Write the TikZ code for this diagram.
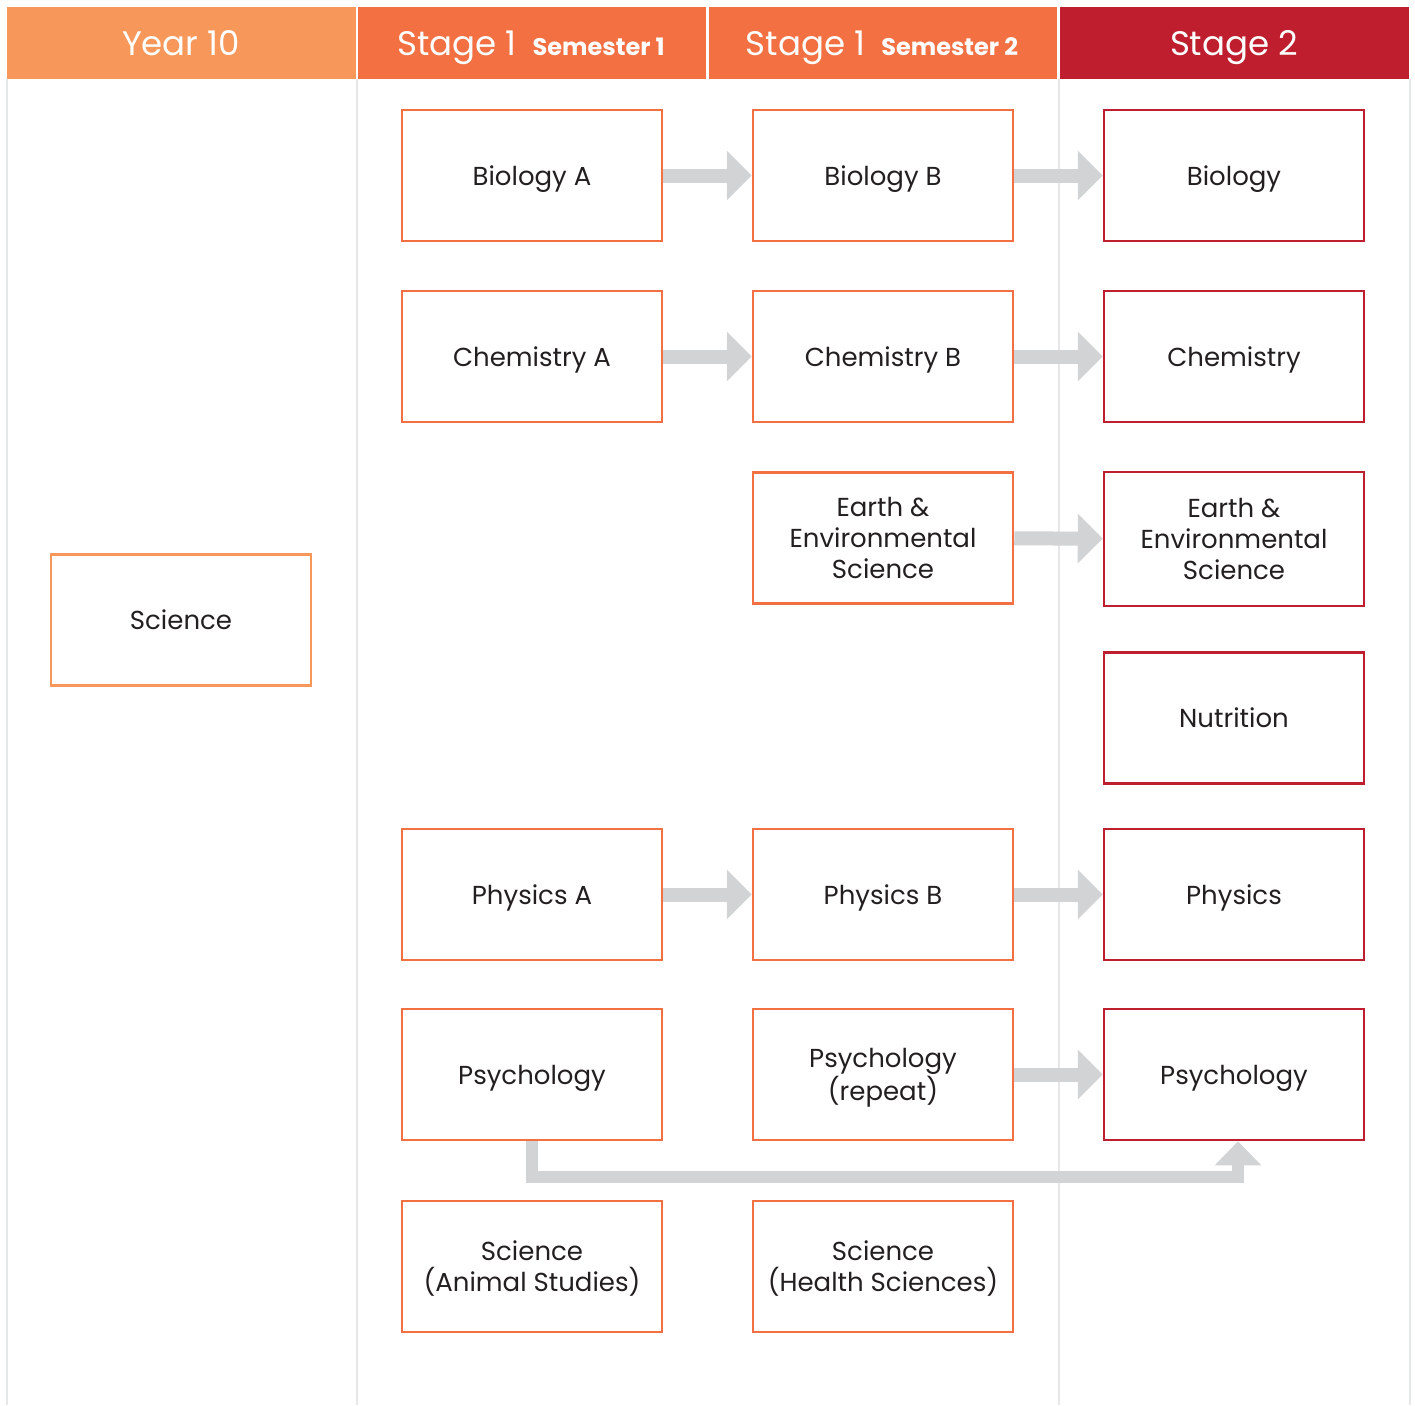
\documentclass[tikz,border=0pt]{standalone}
\usepackage{fontspec}
\setmainfont{Poppins}
\usetikzlibrary{arrows.meta,positioning,calc}
\definecolor{yearorange}{HTML}{F7975A}
\definecolor{stageorange}{HTML}{F37043}
\definecolor{stagered}{HTML}{BE1E2D}
\definecolor{gridgrey}{HTML}{E6E7E8}
\definecolor{arrowgrey}{HTML}{D1D3D4}
\definecolor{textdark}{HTML}{231F20}
\tikzset{
  subjbox/.style={draw,line width=1.25pt,minimum width=130pt,minimum height=65.5pt,
    align=center,text=textdark,font=\fontsize{13}{15.5}\selectfont,inner sep=0pt,text depth=0pt},
  yearbox/.style={subjbox,draw=yearorange},
  sonebox/.style={subjbox,draw=stageorange},
  stwobox/.style={subjbox,draw=stagered},
  headtext/.style={text=white,font=\fontsize{17}{20}\selectfont,text depth=0pt},
  flowarrow/.style={draw=arrowgrey,line width=7pt,-{Triangle[width=24pt,length=12.5pt]}},
  bendarrow/.style={draw=arrowgrey,line width=6pt,-{Triangle[width=22.5pt,length=12pt]}}
}
\newcommand{\semtext}[1]{{\bfseries\fontsize{12}{14}\selectfont #1}}
\begin{document}
\begin{tikzpicture}[x=0.5pt,y=-0.5pt]
\useasboundingbox (0,0) rectangle (1415,1405);
% header band
\fill[yearorange]  (7,7)    rectangle (356,79);
\fill[stageorange] (358,7)  rectangle (706,79);
\fill[stageorange] (709,7)  rectangle (1057,79);
\fill[stagered]    (1060,7) rectangle (1409,79);
\node[headtext] (hyear) at (181,43) {Year 10};
\node[headtext] (hsone) at (531,43) {Stage 1\hspace{8pt}\semtext{Semester 1}};
\node[headtext] (hstwo) at (882,43) {Stage 1\hspace{8pt}\semtext{Semester 2}};
\node[headtext] (hstage) at (1234,43) {Stage 2};
% column rules
\foreach \xr in {7,357,1059,1410}
  \draw[gridgrey,line width=1pt] (\xr,79) -- (\xr,1405);
% Year 10
\node[yearbox] (sci) at (181,620) {Science};
% Stage 1 semester 1
\node[sonebox] (bioA) at (532,175.5)  {Biology A};
\node[sonebox] (chemA) at (532,356.5) {Chemistry A};
\node[sonebox] (physA) at (532,894.5) {Physics A};
\node[sonebox] (psyA) at (532,1074.5) {Psychology};
\node[sonebox] (animal) at (532,1266.5) {Science\\(Animal Studies)};
% Stage 1 semester 2
\node[sonebox] (bioB) at (883,175.5)  {Biology B};
\node[sonebox] (chemB) at (883,356.5) {Chemistry B};
\node[sonebox] (earthB) at (883,538)  {Earth \&\\Environmental\\Science};
\node[sonebox] (physB) at (883,894.5) {Physics B};
\node[sonebox] (psyB) at (883,1074.5) {Psychology\\(repeat)};
\node[sonebox] (health) at (883,1266.5) {Science\\(Health Sciences)};
% Stage 2
\node[stwobox] (bio) at (1234,175.5)  {Biology};
\node[stwobox] (chem) at (1234,356.5) {Chemistry};
\node[stwobox,minimum height=67pt] (earth) at (1234,539) {Earth \&\\Environmental\\Science};
\node[stwobox] (nutr) at (1234,718)   {Nutrition};
\node[stwobox] (phys) at (1234,894.5) {Physics};
\node[stwobox] (psy) at (1234,1074.5) {Psychology};
% arrows
\draw[flowarrow] (bioA)  -- (bioB);
\draw[flowarrow] (bioB)  -- (bio);
\draw[flowarrow] (chemA) -- (chemB);
\draw[flowarrow] (chemB) -- (chem);
\draw[flowarrow] (earthB) -- (earth);
\draw[flowarrow] (physA) -- (physB);
\draw[flowarrow] (physB) -- (phys);
\draw[flowarrow] (psyB)  -- (psy);
\coordinate (bendL) at ($(psyA.south)+(0,36)$);
\coordinate (bendR) at ($(psy.south)+(4,36)$);
\draw[bendarrow,line join=miter] (psyA.south) -- (bendL) -- (bendR) -- ($(psy.south)+(4,0)$);
\end{tikzpicture}
\end{document}
